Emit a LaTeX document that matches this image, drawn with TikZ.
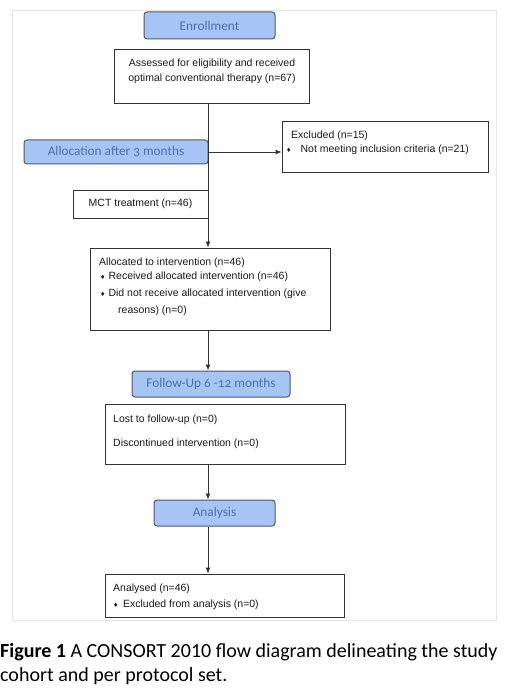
\documentclass[tikz,border=0pt]{standalone}
\usepackage{fontspec}
\setmainfont{Liberation Sans}
\newfontfamily\hdfont{Carlito}[Numbers=OldStyle]
\newfontfamily\capfont{Carlito}
\newfontfamily\djv{DejaVu Sans}
\usetikzlibrary{arrows.meta}
\definecolor{hdfill}{HTML}{A6C4F4}
\definecolor{hdline}{HTML}{50566A}
\definecolor{hdtext}{HTML}{4F6FA8}
\definecolor{boxline}{HTML}{333333}
\definecolor{txt}{HTML}{1A1A1A}
\newcommand{\dbul}{{\djv\fontsize{6}{6}\selectfont ♦}}
\begin{document}
\begin{tikzpicture}[x=1pt,y=-1pt,
 header/.style={draw=hdline, fill=hdfill, rounded corners=3pt, line width=1pt, inner sep=0pt, font=\hdfont\fontsize{13.3}{16}\selectfont, text=hdtext},
 box/.style={draw=boxline, line width=0.9pt, inner sep=0pt},
 lbl/.style={inner sep=0pt, font=\fontsize{10.5}{15}\selectfont, text=txt},
 arr/.style={draw=boxline, line width=0.9pt, -{Latex[length=6pt,width=5pt]}},
 capstyle/.style={inner sep=0pt, anchor=base west, font=\capfont\fontsize{20}{24}\selectfont}]
\useasboundingbox (0,0) rectangle (508,692);
\fill[white] (0,0) rectangle (508,692);
\draw[gray!20, line width=0.8pt] (12,10) rectangle (496,620);
\coordinate (spine) at (208,0);

\node[header, minimum width=131, minimum height=27] (enroll) at (209.5,25.5) {Enrollment};

\node[box, minimum width=195, minimum height=54] (assess) at (211.5,76) {};
\node[lbl, align=center] (assesstxt) at (212,71.5) {Assessed for eligibility and received\\optimal conventional therapy (n=67)};

\node[header, minimum width=184, minimum height=24] (alloc) at (116,152) {Allocation after 3 months};

\node[box, minimum width=206, minimum height=51] (excl) at (385,146.5) {};
\node[lbl, anchor=west] (excl1) at (291,136) {Excluded (n=15)};
\node[lbl, anchor=west] (excl2) at (286,150) {\dbul\hspace{9pt}Not meeting inclusion criteria (n=21)};

\node[box, minimum width=135, minimum height=28, font=\fontsize{10.5}{12}\selectfont, text=txt] (mct) at (140.5,204) {MCT treatment (n=46)};

\node[box, minimum width=240, minimum height=82] (allocated) at (210,289) {};
\node[lbl, anchor=west] (al1) at (99,263) {Allocated to intervention (n=46)};
\node[lbl, anchor=west] (al2) at (100,277) {\dbul\hspace{3pt}Received allocated intervention (n=46)};
\node[lbl, anchor=west] (al3) at (100,294) {\dbul\hspace{3pt}Did not receive allocated intervention (give};
\node[lbl, anchor=west] (al4) at (118,311) {reasons) (n=0)};

\node[header, minimum width=158, minimum height=26] (follow) at (211,384) {Follow-Up 6 -12 months};

\node[box, minimum width=240, minimum height=60] (lost) at (225,434) {};
\node[lbl, anchor=west] (lost1) at (113,420) {Lost to follow-up (n=0)};
\node[lbl, anchor=west] (lost2) at (113,444) {Discontinued intervention (n=0)};

\node[header, minimum width=121, minimum height=26] (analysis) at (214.5,513) {Analysis};

\node[box, minimum width=239, minimum height=43] (analysed) at (224.5,595.5) {};
\node[lbl, anchor=west] (an1) at (113,589) {Analysed (n=46)};
\node[lbl, anchor=west] (an2) at (113,605) {\dbul\hspace{4.5pt}Excluded from analysis (n=0)};

\draw[arr] (assess.south -| spine) -- (allocated.north -| spine);
\draw[arr] (alloc.east) -- (excl.west |- alloc.east);
\draw[arr] (allocated.south -| spine) -- (follow.north -| spine);
\draw[arr] (lost.south -| spine) -- (analysis.north -| spine);
\draw[arr] (analysis.south -| spine) -- (analysed.north -| spine);

\node[capstyle] (cap1) at (0,657) {\textbf{Figure 1} A CONSORT 2010 flow diagram delineating the study};
\node[capstyle] (cap2) at (0,681) {cohort and per protocol set.};
\end{tikzpicture}
\end{document}
